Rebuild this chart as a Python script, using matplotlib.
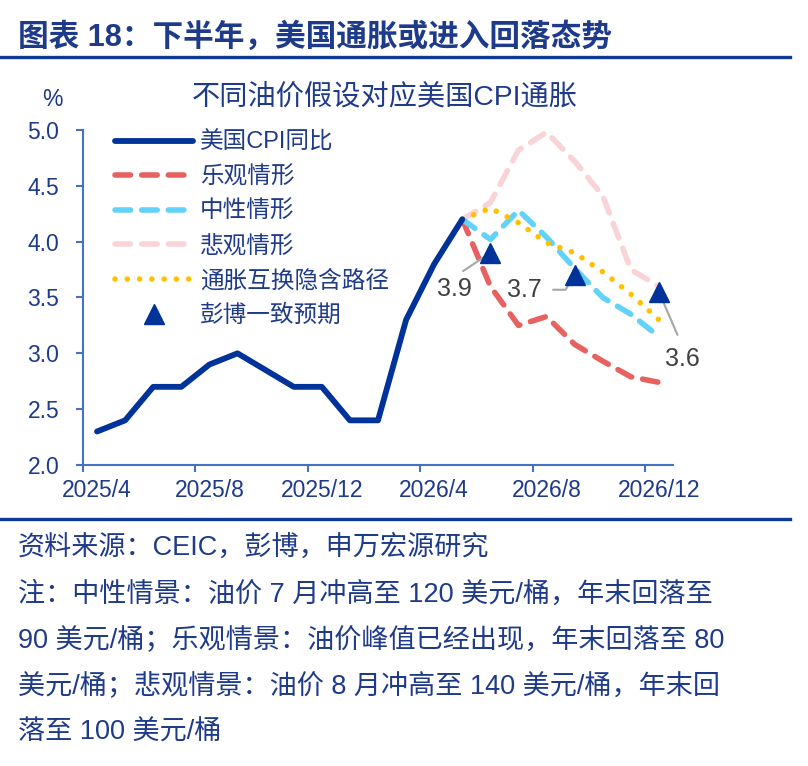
import matplotlib
matplotlib.use('Agg')
import matplotlib.pyplot as plt
from matplotlib.lines import Line2D
import numpy as np

plt.rcParams['font.family'] = ['Liberation Sans', 'Noto Sans CJK SC', 'DejaVu Sans']

# ---------------- data ----------------
months = ['2025/4', '2025/5', '2025/6', '2025/7', '2025/8', '2025/9', '2025/10',
          '2025/11', '2025/12', '2026/1', '2026/2', '2026/3', '2026/4', '2026/5',
          '2026/6', '2026/7', '2026/8', '2026/9', '2026/10', '2026/11', '2026/12']
cpi = [2.3, 2.4, 2.7, 2.7, 2.9, 3.0, None, 2.7, 2.7, 2.4, 2.4, 3.3, 3.8, 4.2]
scen_months = months[13:]
optimistic = [4.2, 3.6, 3.25, 3.33, 3.08, 2.93, 2.79, 2.74]
neutral = [4.2, 4.02, 4.28, 4.04, 3.76, 3.50, 3.35, 3.15]
pessimistic = [4.2, 4.35, 4.82, 4.98, 4.72, 4.41, 3.75, 3.60]
swap_implied = [4.2, 4.3, 4.17, 3.99, 3.90, 3.73, 3.53, 3.30]
bbg_months = ['2026/6', '2026/9', '2026/12']
bbg = [3.9, 3.7, 3.55]
bbg_labels = ['3.9', '3.7', '3.6']
yticks = [2.0, 2.5, 3.0, 3.5, 4.0, 4.5, 5.0]
xlabel_months = ['2025/4', '2025/8', '2025/12', '2026/4', '2026/8', '2026/12']

series_names = ['美国CPI同比', '乐观情形', '中性情形', '悲观情形', '通胀互换隐含路径', '彭博一致预期']

# ---------------- styles ----------------
NAVY = '#00339A'
RED = '#E86161'
CYAN = '#62D2F9'
PINK = '#F9D4D6'
YELLOW = '#FFC000'
SPINE = '#4472C4'
TXT = '#1E3A8A'
GRAY = '#A6A6A6'

fig = plt.figure(figsize=(8.08, 7.66), dpi=100)
ax = fig.add_axes([83/808, 1-465/766, 590/808, 335/766])

pos = {m: i for i, m in enumerate(months)}
cx = [pos[m] for m, v in zip(months, cpi) if v is not None]
cy = [v for v in cpi if v is not None]
sx = [pos[m] for m in scen_months]

LW = 4.0
dash = (0, (2.8, 2.0))
ax.plot(sx, pessimistic, color=PINK, lw=LW, ls=dash, dash_capstyle='round', label=series_names[3], zorder=2)
ax.plot(sx, optimistic, color=RED, lw=LW, ls=dash, dash_capstyle='round', label=series_names[1], zorder=3)
ax.plot(sx, neutral, color=CYAN, lw=LW, ls=dash, dash_capstyle='round', label=series_names[2], zorder=4)
ax.plot(sx, swap_implied, color=YELLOW, lw=LW, ls=(0, (0.01, 2.2)), dash_capstyle='round', label=series_names[4], zorder=5)
ax.plot(cx, cy, color=NAVY, lw=LW + 0.2, solid_capstyle='round', solid_joinstyle='round', label=series_names[0], zorder=6)
bx = [pos[m] for m in bbg_months]
ax.plot(bx, bbg, ls='none', marker='^', ms=15, color=NAVY, label=series_names[5], zorder=8)

# annotations
ann_cfg = [
    dict(xytext=(-26, -26), relpos=(0.5, 1.0), conn='arc3', shrinkA=4),
    dict(xytext=(-36, -10.5), relpos=(1.0, 0.5), conn='angle,angleA=0,angleB=58,rad=0', shrinkA=6),
    dict(xytext=(17, -48), relpos=(0.5, 1.0), conn='arc3', shrinkA=7),
]
for x, y, lab, c in zip(bx, bbg, bbg_labels, ann_cfg):
    ax.annotate(lab, xy=(x, y), xytext=c['xytext'], textcoords='offset points',
                ha='center', va='center', fontsize=18, color='#404040',
                arrowprops=dict(arrowstyle='-', color=GRAY, lw=1.5,
                                connectionstyle=c['conn'], relpos=c['relpos'],
                                shrinkA=c['shrinkA'], shrinkB=0),
                zorder=7)

# axes styling
ax.set_xlim(-0.5, len(months) - 0.5)
ax.set_ylim(2.0, 5.0)
for s in ['top', 'right']:
    ax.spines[s].set_visible(False)
for s in ['left', 'bottom']:
    ax.spines[s].set_color(SPINE)
    ax.spines[s].set_linewidth(1.5)
ax.set_yticks(yticks)
ax.set_yticklabels([f'{v:.1f}' for v in yticks])
major_x = [pos[m] - 0.5 for m in xlabel_months]
ax.set_xticks(major_x)
ax.set_xticklabels([])
ax.set_xticks([pos[m] for m in xlabel_months], minor=True)
ax.set_xticklabels(xlabel_months, minor=True)
ax.tick_params(axis='x', which='major', length=5, width=1.5, color=SPINE)
ax.tick_params(axis='x', which='minor', length=0, pad=10, labelsize=16.5, labelcolor=TXT)
ax.tick_params(axis='y', length=5, width=1.5, color=SPINE, labelsize=16.5, labelcolor=TXT, pad=12)

# legend
h, l = ax.get_legend_handles_labels()
hd = dict(zip(l, h))
leg = ax.legend([hd[n] for n in series_names], series_names, loc='upper left',
                bbox_to_anchor=(0.054, 0.995), frameon=False, fontsize=17,
                handlelength=3.3, handletextpad=0.3, labelspacing=0.52,
                borderpad=0, borderaxespad=0, numpoints=1)
for t in leg.get_texts():
    t.set_color(TXT)

# texts
fig.text(18/808, 1-38/766, '图表 18：下半年，美国通胀或进入回落态势', fontsize=22.1,
         fontweight='bold', color=TXT, ha='left', va='center')
fig.add_artist(Line2D([0, 790/808], [1-57/766, 1-57/766], color='#0E3A94', lw=2.4))
fig.text(385/808, 1-97/766, '不同油价假设对应美国CPI通胀', fontsize=20.3, color=TXT,
         ha='center', va='center')
fig.text(52/808, 1-100/766, '%', fontsize=16.5, color=TXT, ha='center', va='center')
fig.add_artist(Line2D([0, 790/808], [1-519/766, 1-519/766], color='#0E3A94', lw=2.4))

footer = ['资料来源：CEIC，彭博，申万宏源研究',
          '注：中性情景：油价 7 月冲高至 120 美元/桶，年末回落至',
          '90 美元/桶；乐观情景：油价峰值已经出现，年末回落至 80',
          '美元/桶；悲观情景：油价 8 月冲高至 140 美元/桶，年末回',
          '落至 100 美元/桶']
for i, line in enumerate(footer):
    fig.text(18/808, 1-(548 + 46.2*i)/766, line, fontsize=19.5, color=TXT,
             ha='left', va='center')

fig.savefig('out.png', dpi=100)
